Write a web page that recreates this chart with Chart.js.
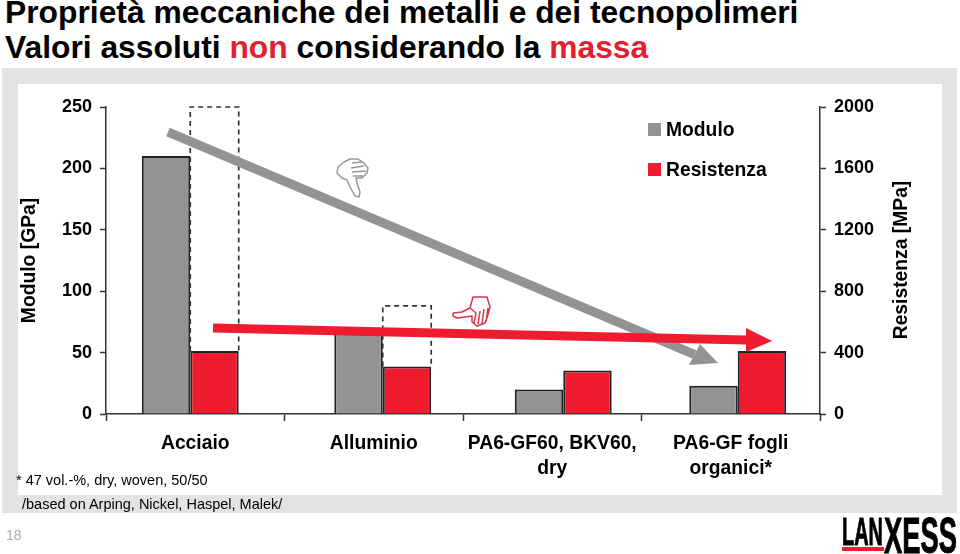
<!DOCTYPE html>
<html>
<head>
<meta charset="utf-8">
<script src="https://cdn.jsdelivr.net/npm/chart.js@4"></script>
<style>
html, body { margin: 0; padding: 0; background: #fff; }
body { width: 960px; height: 554px; position: relative; overflow: hidden; font-family: "Liberation Sans", Arial, sans-serif; color: #000; }
.abs { position: absolute; white-space: nowrap; }
.titolo { left: 5px; font-size: 31.8px; font-weight: bold; line-height: 34px; }
#cornice { left: 2px; top: 68px; width: 955px; height: 445px; background: #e3e3e3; }
#interno { left: 18px; top: 84px; width: 924px; height: 411px; background: #fff; }
canvas { position: absolute; left: 0; top: 0; }
.nota { font-size: 14.5px; }
.voce { left: 648px; font-size: 19.3px; font-weight: bold; line-height: 22px; }
.voce i { display: inline-block; width: 13px; height: 13px; margin-right: 5px; }
#logo { left: 841px; top: 510px; width: 118px; height: 44px; font-weight: bold; }
#logo span { position: absolute; transform-origin: left top; -webkit-text-stroke: 1px #000; }
#logo b { position: absolute; left: 1px; top: 37px; width: 42px; height: 4px; background: #e3202f; }
</style>
</head>
<body>
<div class="abs" id="cornice"></div>
<div class="abs" id="interno"></div>
<div class="abs titolo" style="top:-5px">Proprietà meccaniche dei metalli e dei tecnopolimeri</div>
<div class="abs titolo" style="top:30px">Valori assoluti <span style="color:#e3202f">non</span> considerando la <span style="color:#e3202f">massa</span></div>
<canvas id="grafica" width="960" height="554"></canvas>
<div class="abs nota" style="left:16px;top:472px">* 47 vol.-%, dry, woven, 50/50</div>
<div class="abs nota" style="left:22px;top:496px">/based on Arping, Nickel, Haspel, Malek/</div>
<div class="abs" style="left:6px;top:527px;font-size:14px;color:#aaa">18</div>
<div class="abs voce" id="legenda1" style="top:119px"></div>
<div class="abs voce" id="legenda2" style="top:159px"></div>
<div class="abs" id="logo">
  <span style="left:1px;top:2px;font-size:39px;line-height:39px;transform:scaleX(0.51)">LAN</span>
  <b></b>
  <span style="left:43px;top:1px;font-size:50px;line-height:50px;transform:scaleX(0.547)">XESS</span>
</div>
<script>
// Dati
const categorie = ['Acciaio', 'Alluminio', ['PA6-GF60, BKV60,', 'dry'], ['PA6-GF fogli', 'organici*']];
const modulo = [210, 70, 20, 23];
const resistenza = [410, 310, 283, 411];
const resistenzaSpecifica = [[410, 2000], [310, 705], null, null];
const ticksModulo = [0, 50, 100, 150, 200, 250];
const ticksResistenza = [0, 400, 800, 1200, 1600, 2000];

const GRIGIO = '#939393';
const ROSSO = '#ee1c2e';
const FONT = '"Liberation Sans", Arial, sans-serif';

// Le colonne non sono centrate sulle categorie
const spostamenti = [-5, 9, 11, 7];

// Contorno e dita delle due mani (in px)
const manoGiu = [[344, 162], [338, 167], [337, 173], [342, 178], [347, 180], [350, 187], [355, 196], [359, 197], [360, 192], [357, 183], [356, 178], [362, 178], [367, 173], [368, 168], [364, 163], [358, 159], [350, 159], [344, 162]];
const ditaGiu = [[[352, 163], [362, 162]], [[351, 168], [364, 166]], [[352, 172], [366, 171]], [[353, 176], [363, 176]]];
const manoIndice = [[453, 313], [462, 312], [470, 308], [473, 297], [487, 297], [490, 307], [488, 315], [485, 323], [477, 326], [472, 322], [472, 316], [465, 317], [457, 318], [453, 316], [453, 313]];
const ditaIndice = [[[470, 308], [476, 313]], [[476, 313], [474, 323]], [[480, 311], [478, 324]], [[484, 309], [482, 324]], [[488, 308], [486, 322]]];

function disegnaMano(ctx, punti, dita, colore) {
    ctx.lineJoin = 'round';
    ctx.lineWidth = 1.5;
    ctx.strokeStyle = colore;
    ctx.beginPath();
    punti.forEach((p, i) => i ? ctx.lineTo(p[0], p[1]) : ctx.moveTo(p[0], p[1]));
    dita.forEach(s => { ctx.moveTo(s[0][0], s[0][1]); ctx.lineTo(s[1][0], s[1][1]); });
    ctx.stroke();
}

function disegnaFreccia(ctx, da, a, ali, colore) {
    ctx.strokeStyle = colore;
    ctx.fillStyle = colore;
    ctx.lineWidth = 9;
    ctx.beginPath();
    ctx.moveTo(da[0], da[1]);
    ctx.lineTo((ali[0][0] + ali[1][0]) / 2, (ali[0][1] + ali[1][1]) / 2);
    ctx.stroke();
    ctx.beginPath();
    ctx.moveTo(a[0], a[1]);
    ctx.lineTo(ali[0][0], ali[0][1]);
    ctx.lineTo(ali[1][0], ali[1][1]);
    ctx.closePath();
    ctx.fill();
}

const extra = {
    id: 'extra',
    afterDatasetsUpdate(chart) {
        chart.data.datasets.forEach((d, i) => {
            chart.getDatasetMeta(i).data.forEach((el, j) => { el.x += spostamenti[j]; });
        });
    },
    afterDatasetsDraw(chart) {
        const ctx = chart.ctx;
        ctx.save();
        // colonne tratteggiate
        ctx.setLineDash([5, 4]);
        ctx.lineWidth = 1.7;
        ctx.strokeStyle = '#333';
        chart.getDatasetMeta(2).data.forEach((el, j) => {
            if (!resistenzaSpecifica[j]) return;
            const y = chart.scales.y1;
            const sx = el.x - el.width / 2, dx = el.x + el.width / 2;
            ctx.beginPath();
            ctx.moveTo(sx, y.getPixelForValue(resistenzaSpecifica[j][0]));
            ctx.lineTo(sx, y.getPixelForValue(resistenzaSpecifica[j][1]));
            ctx.lineTo(dx, y.getPixelForValue(resistenzaSpecifica[j][1]));
            ctx.lineTo(dx, y.getPixelForValue(resistenzaSpecifica[j][0]));
            ctx.stroke();
        });
        ctx.setLineDash([]);
        // frecce
        disegnaFreccia(ctx, [168, 132], [718, 363], [[700, 344], [689, 365]], GRIGIO);
        disegnaFreccia(ctx, [213, 328], [772, 341], [[746, 328], [746, 352]], ROSSO);
        disegnaMano(ctx, manoGiu, ditaGiu, '#999');
        disegnaMano(ctx, manoIndice, ditaIndice, '#d8354a');
        // titolo asse destro
        ctx.translate(902, 260);
        ctx.rotate(-Math.PI / 2);
        ctx.fillStyle = '#000';
        ctx.font = 'bold 19.3px ' + FONT;
        ctx.textAlign = 'center';
        ctx.textBaseline = 'middle';
        ctx.fillText('Resistenza [MPa]', 0, 0);
        ctx.restore();
    }
};

const fontAssi = { family: FONT, size: 18, weight: 'bold' };
const fontGrande = { family: FONT, size: 19.3, weight: 'bold', lineHeight: 1.3 };

const grafica = new Chart(document.getElementById('grafica').getContext('2d'), {
    type: 'bar',
    data: {
        labels: categorie,
        datasets: [
            { label: 'Modulo', data: modulo, yAxisID: 'y', stack: 'm', backgroundColor: GRIGIO, borderColor: '#222', borderWidth: 2 },
            { label: 'Resistenza', data: resistenza, yAxisID: 'y1', stack: 'r', backgroundColor: ROSSO, borderColor: '#222', borderWidth: 2 },
            { label: 'Resistenza specifica', data: resistenzaSpecifica, yAxisID: 'y1', stack: 'r', backgroundColor: 'transparent', borderWidth: 0 }
        ]
    },
    options: {
        responsive: false,
        animation: false,
        categoryPercentage: 0.543,
        barPercentage: 1,
        layout: { padding: { top: 107 } },
        plugins: { legend: { display: false }, tooltip: { enabled: false } },
        scales: {
            x: {
                afterFit: s => { s.height = 140; },
                border: { color: '#333', width: 1.5 },
                grid: { drawOnChartArea: false, tickLength: 7, tickColor: '#333', tickWidth: 1.5 },
                ticks: { color: '#000', font: fontGrande, maxRotation: 0, autoSkip: false, padding: 10 }
            },
            y: {
                position: 'left',
                stacked: false,
                min: 0,
                max: 250,
                afterFit: s => { s.width = 106; },
                afterBuildTicks: s => { s.ticks = ticksModulo.map(v => ({ value: v })); },
                border: { color: '#333', width: 1.5 },
                grid: { drawOnChartArea: false, tickLength: 6, tickColor: '#333', tickWidth: 1.5 },
                ticks: { color: '#000', font: fontAssi, padding: 8 },
                title: { display: true, text: 'Modulo [GPa]', color: '#000', font: fontGrande, padding: { top: 17, bottom: 0 } }
            },
            y1: {
                position: 'right',
                stacked: false,
                min: 0,
                max: 2000,
                afterFit: s => { s.width = 140; },
                afterBuildTicks: s => { s.ticks = ticksResistenza.map(v => ({ value: v })); },
                border: { color: '#333', width: 1.5 },
                grid: { drawOnChartArea: false, tickLength: 6, tickColor: '#333', tickWidth: 1.5 },
                ticks: { color: '#000', font: fontAssi, padding: 8, callback: v => String(v) }
            }
        }
    },
    plugins: [extra]
});

// Legenda
[['legenda1', 0], ['legenda2', 1]].forEach(([id, i]) => {
    const d = grafica.data.datasets[i];
    const box = document.getElementById(id);
    box.innerHTML = '<i style="background:' + d.backgroundColor + '"></i>';
    box.appendChild(document.createTextNode(d.label));
});
</script>
</body>
</html>
